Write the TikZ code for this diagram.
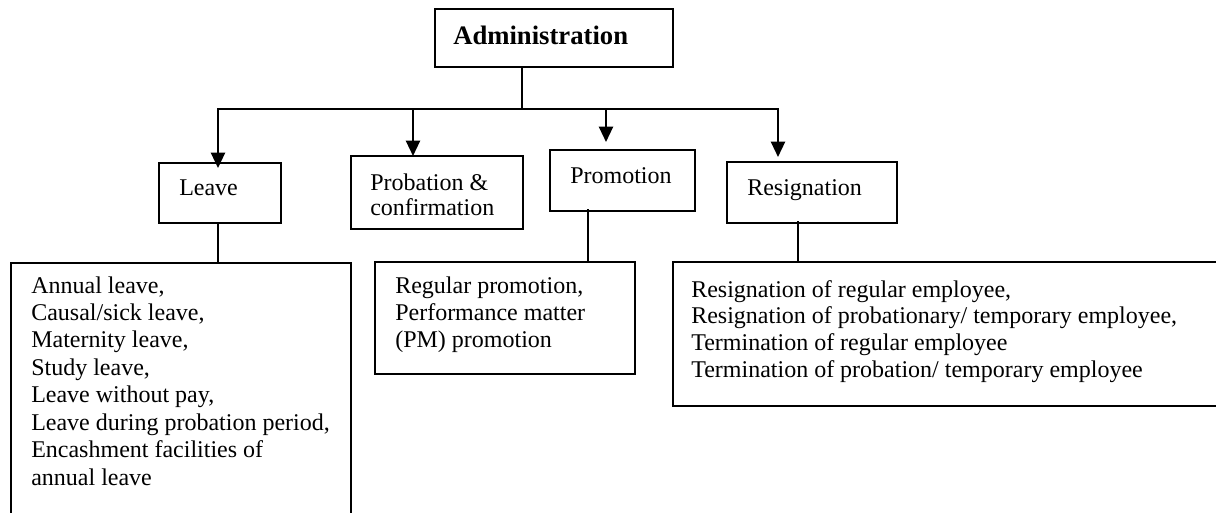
\documentclass[tikz,border=0pt]{standalone}
\usepackage{fontspec}
\setmainfont{Liberation Serif}
\usetikzlibrary{arrows.meta}
\begin{document}
\begin{tikzpicture}[x=0.75pt,y=-0.75pt,
  box/.style={draw, line width=1.3pt, rectangle, inner sep=0pt, anchor=north west},
  lbl/.style={anchor=base west, inner sep=0pt, font=\fontsize{18}{20.6}\selectfont},
  arr/.style={line width=1.7pt, -{Triangle[length=11.5pt,width=10.5pt]}},
  bar/.style={line width=1.7pt},
  thinline/.style={line width=1pt}]
\useasboundingbox (0,0) rectangle (1216,512);
\clip (0,0) rectangle (1216,512);
% boxes
\node[box, minimum width=178.5pt, minimum height=43.5pt] (admin) at (434,8) {};
\node[box, minimum width=91.5pt, minimum height=45pt] (leave) at (158,162) {};
\node[box, minimum width=129pt, minimum height=54.75pt] (prob) at (350,155) {};
\node[box, minimum width=108.75pt, minimum height=45.75pt] (prom) at (549,149) {};
\node[box, minimum width=127.5pt, minimum height=45.75pt] (resig) at (726,161) {};
\node[box, minimum width=255pt, minimum height=189.75pt] (leaveD) at (10,262) {};
\node[box, minimum width=195pt, minimum height=84pt] (promD) at (374,261) {};
\node[box, minimum width=412.5pt, minimum height=108pt] (resD) at (672,261) {};
% texts
\node[lbl, font=\fontsize{20}{23}\selectfont\bfseries] (adminT) at (453,44) {Administration};
\node[lbl] (leaveT) at (179,195) {Leave};
\node[lbl, font=\fontsize{18}{19}\selectfont] (probT) at (370,190) {\begin{tabular}[t]{@{}l@{}}Probation \&\\confirmation\end{tabular}};
\node[lbl] (promT) at (570,183) {Promotion};
\node[lbl] (resigT) at (747,195) {Resignation};
\node[lbl] (leaveDT) at (31,293) {\begin{tabular}[t]{@{}l@{}}Annual leave,\\Causal/sick leave,\\Maternity leave,\\Study leave,\\Leave without pay,\\Leave during probation period,\\Encashment facilities of\\annual leave\end{tabular}};
\node[lbl] (promDT) at (395,293) {\begin{tabular}[t]{@{}l@{}}Regular promotion,\\Performance matter\\(PM) promotion\end{tabular}};
\node[lbl, font=\fontsize{18}{20}\selectfont] (resDT) at (691,297) {\begin{tabular}[t]{@{}l@{}}Resignation of regular employee,\\Resignation of probationary/ temporary employee,\\Termination of regular employee\\Termination of probation/ temporary employee\end{tabular}};
% junction coordinates
\coordinate (jA) at (522,109);
\coordinate (bL) at (218,109);
\coordinate (bP) at (413,109);
\coordinate (bM) at (606,109);
\coordinate (bR) at (778,109);
\coordinate (pm) at (588,0);
\coordinate (rs) at (798,0);
% connectors
\draw[thinline] (jA |- admin.south) -- (jA);
\draw[bar, line cap=rect] (bL) -- (bR);
\draw[arr, shorten >=-4.5pt] (bL) -- (bL |- leave.north);
\draw[arr, shorten >=-0.75pt] (bP) -- (bP |- prob.north);
\draw[arr, shorten >=5.25pt] (bM) -- (bM |- prom.north);
\draw[arr, shorten >=3pt] (bR) -- (bR |- resig.north);
\draw[thinline] (bL |- leave.south) -- (bL |- leaveD.north);
\draw[thinline] ([yshift=2pt]pm |- prom.south) -- (pm |- promD.north);
\draw[thinline] ([yshift=2pt]rs |- resig.south) -- (rs |- resD.north);
\end{tikzpicture}
\end{document}
